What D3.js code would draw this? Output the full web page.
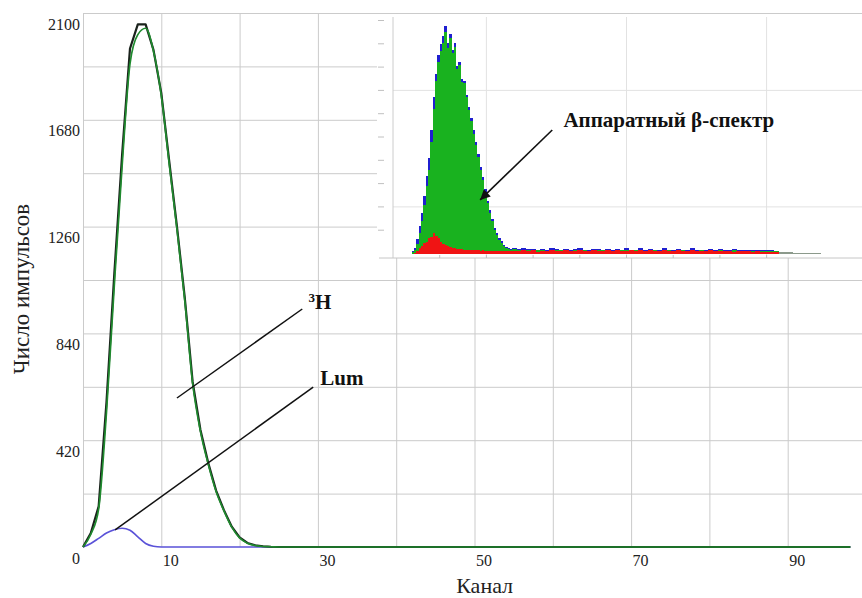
<!DOCTYPE html>
<html>
<head>
<meta charset="utf-8">
<script src="https://cdn.jsdelivr.net/npm/d3@7"></script>
<style>
  html, body { margin: 0; padding: 0; background: #fff; }
  svg { display: block; }
  text { font-family: "Liberation Serif", "Times New Roman", serif; }
</style>
</head>
<body>
<svg id="chart" width="862" height="598"></svg>
<script>
// ---------- main spectrum: channel vs. pulse count ----------
const channels = [0,1,2,3,4,5,6,7,8,9,10,11,12,13,14,15,16,17,18,19,20,21,22,23,24,25,26,27,28,29,30,31,32,33,34,35,36,37,38,39,40,41,42,43,44,45,46,47,48,49,50,51,52,53,54,55,56,57,58,59,60,61,62,63,64,65,66,67,68,69,70,71,72,73,74,75,76,77,78,79,80,81,82,83,84,85,86,87,88,89,90,91,92,93,94,95,96,97,98];

// 3H spectrum, measured (dark line)
const h3Measured = [0,55,160,570,1075,1545,1960,2055,2055,1955,1785,1520,1260,980,650,460,330,222,145,80,38,16,7,3,1,0,0,0,0,0,0,0,0,0,0,0,0,0,0,0,0,0,0,0,0,0,0,0,0,0,0,0,0,0,0,0,0,0,0,0,0,0,0,0,0,0,0,0,0,0,0,0,0,0,0,0,0,0,0,0,0,0,0,0,0,0,0,0,0,0,0,0,0,0,0,0,0,0,0];
// 3H spectrum, fitted (green line)
const h3Fitted = [0,50,150,530,1030,1500,1900,2015,2040,1950,1775,1510,1250,970,645,455,325,218,142,78,36,15,6,2,1,0,0,0,0,0,0,0,0,0,0,0,0,0,0,0,0,0,0,0,0,0,0,0,0,0,0,0,0,0,0,0,0,0,0,0,0,0,0,0,0,0,0,0,0,0,0,0,0,0,0,0,0,0,0,0,0,0,0,0,0,0,0,0,0,0,0,0,0,0,0,0,0,0,0];
// luminescence component (blue line)
const lumSpectrum = [0,14,34,55,68,74,66,40,14,3,0,0,0,0,0,0,0,0,0,0,0,0,0,0,0,0,0,0,0,0,0,0,0,0,0,0,0,0,0,0,0,0,0,0,0,0,0,0,0,0,0,0,0,0,0,0,0,0,0,0,0,0,0,0,0,0,0,0,0,0,0,0,0,0,0,0,0,0,0,0,0,0,0,0,0,0,0,0,0,0,0,0,0,0,0,0,0,0,0];

const xGridValues = [0,10,20,30,40,50,60,70,80,90];
const xTickLabels = [10,30,50,70,90];
const yGridValues = [210,420,630,840,1050,1260,1470,1680,1890,2100];
const yTickLabels = [0,420,840,1260,1680,2100];

// ---------- inset: hardware beta spectrum ----------
const insetPeakChannels = [8,9,10,11,12,13,14,15,16,17,18,19,20,21,22,23,24,25,26,27,28,29,30,31,32,33,34,35,36,37,38,39,40,41,42,43,44,45,46,47,48,49,50];
const insetBluePeak  = [9,24,62,118,172,248,332,410,530,672,772,850,898,932,978,902,944,872,902,806,822,748,742,682,628,582,528,478,428,372,328,278,226,186,148,110,86,68,52,38,29,24,21];
const insetGreenPeak = [5,14,40,90,140,210,290,360,480,620,740,820,870,905,950,880,925,860,885,790,810,735,730,670,615,570,515,465,415,360,315,265,215,175,138,100,78,60,45,32,24,20,17];
const insetRedPeak   = [0,4,12,24,34,44,50,66,70,86,74,66,50,42,36,31,28,25,23,21,19,18,17,16,15,15,14,13,14,12,13,11,12,10,11,10,9,11,10,9,11,10,9];

const insetTailChannels = [51,53,55,57,59,61,63,65,67,69,71,73,75,77,79,81,83,85,87,89,91,93,95,97,99,101,103,105,107,109,111,113,115,117,119,121,123,125,127,129,131,133,135,137,139,141,143,145,147,149,151,153,155,157,159,161,163];
const insetBlueTail  = [24,20,22,18,21,17,19,16,22,18,17,20,16,19,22,17,16,20,18,17,21,16,19,17,24,16,17,22,16,20,17,16,23,17,16,21,17,15,22,16,17,16,20,15,18,16,15,18,16,15,16,13,15,16,13,14,12];
const insetGreenTail = [18,15,16,14,17,13,15,12,16,14,13,15,12,14,16,13,12,15,14,13,16,12,14,13,15,12,13,14,12,15,13,12,14,13,12,15,13,11,14,12,13,12,14,11,13,12,11,13,12,11,12,10,11,12,10,11,9];
const insetRedTail   = [12,9,13,10,14,8,11,12,15,9,10,13,11,9,14,12,10,16,9,11,13,10,15,9,12,14,10,13,9,15,11,10,16,12,9,14,11,10,15,9,12,10,13,9,11,10,12,8,10,9,11,7,9,8,6,7,5];
const insetResidueChannels = [165,167,169,171,173,175,177,179,181];
const insetResidue = [6,5,5,4,4,4,3,3,3];

const insetYTicks = [100,200,300,400,500,600,700,800,900,1000];
const insetXTicks = [20,40,60,80,100,120,140,160];
const insetGridX = [40,100,160];
const insetGridY = [200,700];

// ---------- drawing ----------
const W = 862;
const FONT = "Liberation Serif, Times New Roman, serif";
const svg = d3.select("#chart");

const x = d3.scaleLinear().domain([0, 100]).range([83, 866]);
const y = d3.scaleLinear().domain([0, 2100]).range([547, 13]);

const gridColor = "#cbcbcb";
const textColor = "#222";

// horizontal grid
const gy = svg.append("g")
  .attr("transform", `translate(${x(0)},0)`)
  .call(d3.axisLeft(y).tickValues(yGridValues).tickSize(-(W - x(0))).tickFormat(""));
gy.select(".domain").remove();
gy.selectAll("line").attr("stroke", gridColor).attr("stroke-width", 1);

// vertical grid
const gx = svg.append("g")
  .attr("transform", `translate(0,${y(0)})`)
  .call(d3.axisBottom(x).tickValues(xGridValues).tickSize(-(y(0) - y(2100))).tickFormat(""));
gx.select(".domain").remove();
gx.selectAll("line").attr("stroke", gridColor).attr("stroke-width", 1);

// y tick labels
const ly = svg.append("g")
  .attr("transform", `translate(${x(0)},0)`)
  .attr("font-family", FONT)
  .call(d3.axisLeft(y).tickValues(yTickLabels).tickSize(0).tickPadding(3).tickFormat(d3.format("d")));
ly.select(".domain").remove();
ly.selectAll("text")
  .attr("dy", 16)
  .attr("font-family", FONT)
  .attr("font-size", 16)
  .attr("fill", textColor);

// x tick labels
const lx = svg.append("g")
  .attr("transform", `translate(0,${y(0)})`)
  .attr("font-family", FONT)
  .call(d3.axisBottom(x).tickValues(xTickLabels).tickSize(0).tickFormat(d3.format("d")));
lx.select(".domain").remove();
lx.selectAll("text")
  .attr("y", 19).attr("dy", 0).attr("x", 1)
  .attr("text-anchor", "start")
  .attr("font-family", FONT)
  .attr("font-size", 16)
  .attr("fill", textColor);

// axis titles
svg.append("text")
  .attr("x", x(51.3)).attr("y", 593)
  .attr("text-anchor", "middle")
  .attr("font-family", FONT)
  .attr("font-size", 22).attr("fill", textColor)
  .text("Канал");

svg.append("text")
  .attr("transform", `translate(29,${(y(0) + y(2100)) / 2 + 9}) rotate(-90)`)
  .attr("text-anchor", "middle")
  .attr("font-family", FONT)
  .attr("font-size", 23).attr("fill", textColor)
  .text("Число импульсов");

// ---------- inset panel ----------
const ix = d3.scaleLinear().domain([0, 200]).range([393, 860]);
const iy = d3.scaleLinear().domain([0, 1000]).range([253.5, 20.5]);
const insetTop = 14, insetBottom = 258, insetLeft = 377;

const inset = svg.append("g");
inset.append("rect")
  .attr("x", insetLeft).attr("y", insetTop)
  .attr("width", W - insetLeft).attr("height", insetBottom - insetTop)
  .attr("fill", "#fff");

inset.append("g").selectAll("line").data(insetGridX).join("line")
  .attr("x1", d => ix(d)).attr("x2", d => ix(d))
  .attr("y1", insetTop + 3).attr("y2", insetBottom)
  .attr("stroke", "#e2e2e2");
inset.append("g").selectAll("line").data(insetGridY).join("line")
  .attr("x1", ix(0)).attr("x2", W)
  .attr("y1", d => iy(d)).attr("y2", d => iy(d))
  .attr("stroke", "#e2e2e2");

// inset axes
inset.append("line")
  .attr("x1", ix(0)).attr("x2", ix(0))
  .attr("y1", insetTop + 3).attr("y2", insetBottom)
  .attr("stroke", "#cccccc");
inset.append("line")
  .attr("x1", ix(0) - 14).attr("x2", W)
  .attr("y1", insetBottom).attr("y2", insetBottom)
  .attr("stroke", "#c6c6c6");
inset.append("g").selectAll("line").data(insetYTicks).join("line")
  .attr("x1", ix(0) - 15).attr("x2", ix(0) - 9)
  .attr("y1", d => iy(d)).attr("y2", d => iy(d))
  .attr("stroke", "#c0c0c0");
inset.append("g").selectAll("line").data(insetXTicks).join("line")
  .attr("x1", d => ix(d)).attr("x2", d => ix(d))
  .attr("y1", insetBottom - 3).attr("y2", insetBottom)
  .attr("stroke", "#c0c0c0");

// histogram bars
function bars(g, chs, vals, width, color) {
  g.append("g").selectAll("rect").data(chs).join("rect")
    .attr("x", d => ix(d))
    .attr("width", ix(width) - ix(0) + 0.4)
    .attr("y", (d, i) => iy(vals[i]))
    .attr("height", (d, i) => iy(0) - iy(vals[i]))
    .attr("fill", color)
    .attr("shape-rendering", "crispEdges");
}
const blue = "#1f1fd0", green = "#19b21f", red = "#f01414";
bars(inset, insetPeakChannels, insetBluePeak, 1, blue);
bars(inset, insetTailChannels, insetBlueTail, 2, blue);
bars(inset, insetPeakChannels, insetGreenPeak, 1, green);
bars(inset, insetTailChannels, insetGreenTail, 2, green);
bars(inset, insetResidueChannels, insetResidue, 2, "#8c9a8c");
bars(inset, insetPeakChannels, insetRedPeak, 1, red);
bars(inset, insetTailChannels, insetRedTail, 2, red);

// arrow and caption
svg.append("defs").append("marker")
  .attr("id", "arrowHead")
  .attr("viewBox", "0 0 10 10")
  .attr("refX", 10).attr("refY", 5)
  .attr("markerWidth", 12).attr("markerHeight", 10)
  .attr("markerUnits", "userSpaceOnUse")
  .attr("orient", "auto")
  .append("path").attr("d", "M0,0 L10,5 L0,10 Z").attr("fill", "#111");

inset.append("line")
  .attr("x1", ix(68.2)).attr("y1", iy(530))
  .attr("x2", ix(37.3)).attr("y2", iy(230))
  .attr("stroke", "#111").attr("stroke-width", 1.6)
  .attr("marker-end", "url(#arrowHead)");

inset.append("text")
  .attr("x", ix(73)).attr("y", iy(543))
  .attr("font-family", FONT)
  .attr("font-size", 21).attr("font-weight", "bold").attr("fill", "#111")
  .text("Аппаратный β-спектр");

// ---------- curves ----------
const lineOf = (vals, curve) => d3.line()
  .x((d, i) => x(channels[i]))
  .y(d => y(d))
  .curve(curve)(vals);

svg.append("path").attr("d", lineOf(lumSpectrum, d3.curveMonotoneX))
  .attr("fill", "none").attr("stroke", "#5a52d8").attr("stroke-width", 1.6);

svg.append("path").attr("d", lineOf(h3Measured, d3.curveLinear))
  .attr("fill", "none").attr("stroke", "#1a221c").attr("stroke-width", 2.2)
  .attr("stroke-linejoin", "round");

svg.append("path").attr("d", lineOf(h3Fitted, d3.curveMonotoneX))
  .attr("fill", "none").attr("stroke", "#1f8a2e").attr("stroke-width", 1.7);

// ---------- annotations ----------
svg.append("line")
  .attr("x1", x(12)).attr("y1", y(586))
  .attr("x2", x(28)).attr("y2", y(936))
  .attr("stroke", "#111").attr("stroke-width", 1.5);
svg.append("line")
  .attr("x1", x(4.1)).attr("y1", y(67))
  .attr("x2", x(29.4)).attr("y2", y(629))
  .attr("stroke", "#111").attr("stroke-width", 1.5);

const h3Label = svg.append("text")
  .attr("x", x(28.8)).attr("y", y(936))
  .attr("font-family", FONT)
  .attr("font-weight", "bold").attr("fill", "#111");
h3Label.append("tspan").attr("font-size", 13).attr("dy", -7).text("3");
h3Label.append("tspan").attr("font-size", 21).attr("dy", 7).text("H");

svg.append("text")
  .attr("x", x(30.3)).attr("y", y(637))
  .attr("font-family", FONT)
  .attr("font-size", 21).attr("font-weight", "bold").attr("fill", "#111")
  .text("Lum");
</script>
</body>
</html>
